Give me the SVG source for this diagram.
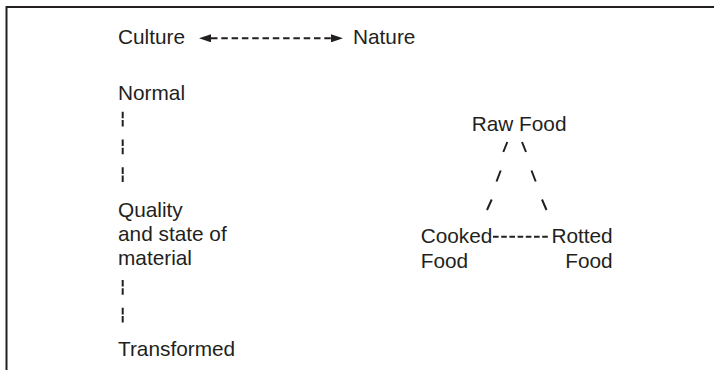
<svg xmlns="http://www.w3.org/2000/svg" width="714" height="370" viewBox="0 0 714 370">
<style>
text{font-family:"Liberation Sans",Arial,Helvetica,sans-serif;font-size:20.8px;fill:#231f20}
.frame{stroke:#231f20;stroke-width:2;fill:none}
.c{stroke:#231f20;stroke-width:2;fill:none}
</style>
<defs>
<marker id="ah" viewBox="0 0 12 8" refX="0" refY="4" markerWidth="12" markerHeight="8" markerUnits="userSpaceOnUse" orient="auto-start-reverse">
<path d="M0,0 L12,4 L0,8 z" fill="#231f20"/>
</marker>
</defs>
<rect width="714" height="370" fill="#fff"/>
<path class="frame" d="M6.5,370 V7 H714"/>
<g id="connectors">
<line class="c" x1="211" y1="38.3" x2="331" y2="38.3" stroke-dasharray="6.5 3.8" marker-start="url(#ah)" marker-end="url(#ah)"/>
<line class="c" x1="122.7" y1="111.7" x2="122.7" y2="182.5" stroke-dasharray="6.6 1.6 6.6 13"/>
<line class="c" x1="122.7" y1="280" x2="122.7" y2="328" stroke-dasharray="6.6 1.6 6.6 13"/>
<path class="c" d="M507.3,142 L503.3,152 M500.7,170.5 L496.5,181.5 M491.7,199.5 L487,210 M522,142 L526,152 M531.5,170.5 L535.7,181.5 M542,199.5 L546.5,210"/>
<line class="c" x1="493" y1="236.7" x2="550" y2="236.7" stroke-dasharray="5.6 2.6"/>
</g>
<g id="culture"><text x="118" y="44">Culture</text></g>
<g id="nature"><text x="353" y="44">Nature</text></g>
<g id="normal"><text x="118" y="100">Normal</text></g>
<g id="quality"><text x="118" y="216.5">Quality</text><text x="118" y="240.5">and state of</text><text x="118" y="264.5">material</text></g>
<g id="transformed"><text x="118" y="356">Transformed</text></g>
<g id="raw-food"><text x="471.7" y="130.5">Raw Food</text></g>
<g id="cooked-food"><text x="420.7" y="243.3">Cooked</text><text x="420.7" y="267.7">Food</text></g>
<g id="rotted-food"><text x="612.7" y="243.3" text-anchor="end">Rotted</text><text x="612.7" y="267.7" text-anchor="end">Food</text></g>
</svg>
